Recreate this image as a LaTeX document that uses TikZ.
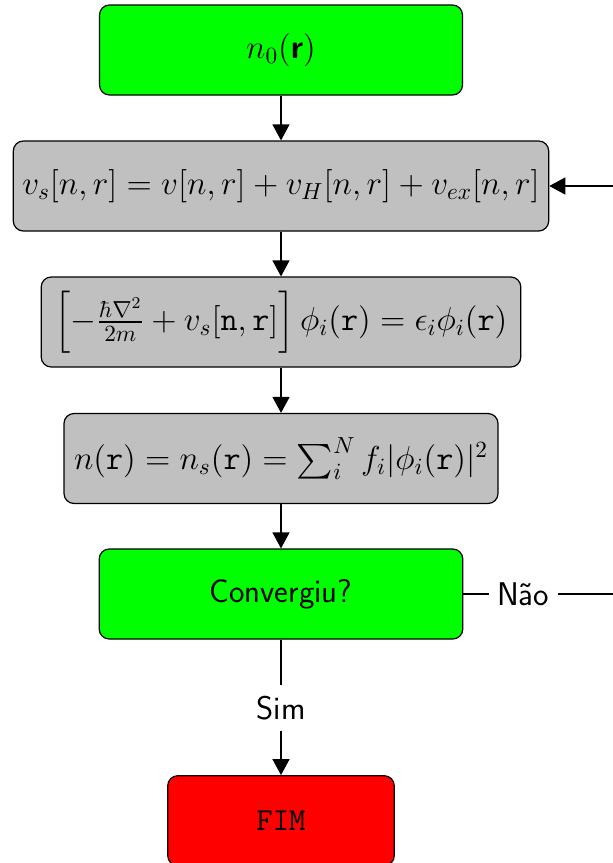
\RequirePackage{fix-cm}
\documentclass[tikz,border=0pt]{standalone}
\usepackage{exscale}
\usepackage{fontspec}
\usetikzlibrary{arrows.meta}
\definecolor{boxgreen}{RGB}{0,255,0}
\definecolor{boxgray}{RGB}{192,192,192}
\definecolor{boxred}{RGB}{255,0,0}
\tikzset{
  box/.style={draw=black, line width=0.6pt, rounded corners=5pt,
    minimum height=45pt, inner sep=2pt,
    font=\sffamily\fontsize{16.4}{19}\selectfont},
  mathbox/.style={box, font=\sffamily\fontsize{16.6}{19}\selectfont},
  lbl/.style={inner xsep=4pt, inner ysep=5.2pt,
    font=\sffamily\fontsize{16.4}{19}\selectfont},
  conn/.style={line width=0.6pt},
  arr/.style={conn, -{Triangle[length=8pt,width=8.5pt]}}
}
\begin{document}
\begin{tikzpicture}[x=1pt,y=1pt]
\useasboundingbox (0,0) rectangle (306.5,-431.5);
\clip (0,0) rectangle (306.5,-431.5);
\node[mathbox, fill=boxgreen, minimum width=181.5pt] (n0) at (140.5,-25)
  {$n_0(\textsf{\bfseries r})$};
\node[mathbox, fill=boxgray, minimum width=267.7pt] (vs) at (140.5,-93)
  {$v_s[n,r] = v[n,r] + v_H[n,r] + v_{ex}[n,r]$};
\node[mathbox, fill=boxgray, minimum width=239.8pt] (ks) at (140.5,-161)
  {$\left[-\frac{\hbar\nabla^2}{2m} + v_s[\texttt{n},\texttt{r}]\right]\phi_i(\texttt{r}) = \epsilon_i\phi_i(\texttt{r})$};
\node[mathbox, fill=boxgray, minimum width=217pt] (dens) at (140.5,-229.25)
  {$n(\texttt{r}) = n_s(\texttt{r}) = \sum_i^N f_i|\phi_i(\texttt{r})|^2$};
\node[box, fill=boxgreen, minimum width=181.8pt] (conv) at (140.5,-297)
  {Convergiu?};
\node[box, fill=boxred, minimum width=113.25pt,
  font=\ttfamily\fontsize{16}{19}\selectfont] (fim) at (140.5,-410.35) {FIM};
\node[lbl] (sim) at (140.5,-354) {Sim};
\node[lbl] (nao) at (261.6,-297) {Não};
\coordinate (loopA) at (330,-297);
\coordinate (loopB) at (330,-93);
\draw[arr] (n0) -- (vs);
\draw[arr] (vs) -- (ks);
\draw[arr] (ks) -- (dens);
\draw[arr] (dens) -- (conv);
\draw[conn] (conv) -- (sim);
\draw[arr] (sim) -- (fim);
\draw[conn] (conv) -- (nao);
\draw[conn] (nao) -- (loopA) -- (loopB);
\draw[arr] (loopB) -- (vs.east);
\end{tikzpicture}
\end{document}
